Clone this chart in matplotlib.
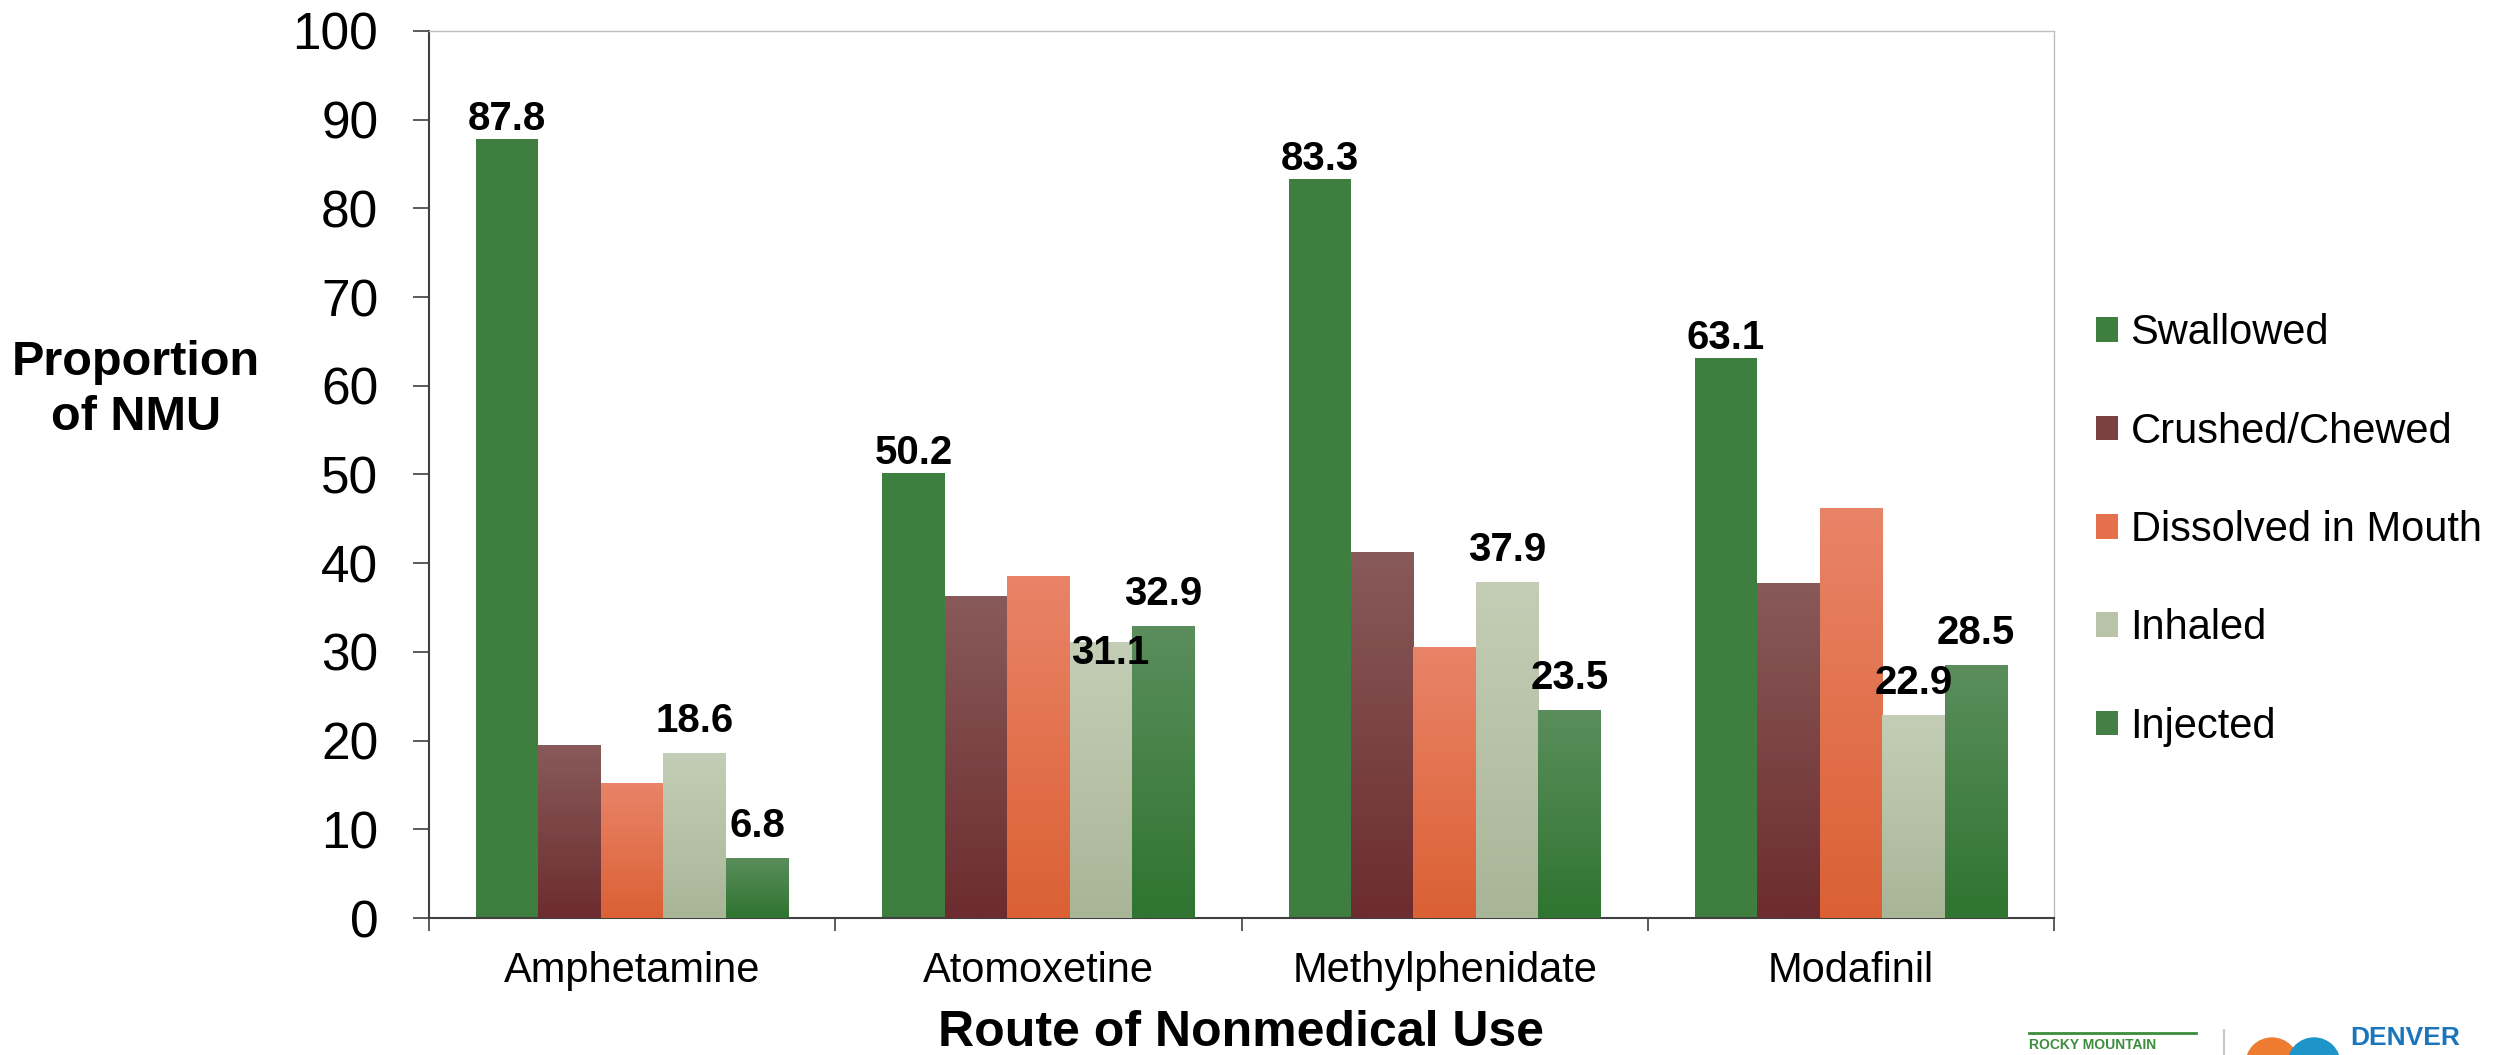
import numpy as np
import matplotlib
matplotlib.use("Agg")
import matplotlib.pyplot as plt
from matplotlib.colors import LinearSegmentedColormap
from matplotlib.patches import Circle

plt.rcParams['font.family'] = ['Liberation Sans', 'DejaVu Sans']

# data
drugs = ["Amphetamine", "Atomoxetine", "Methylphenidate", "Modafinil"]
routes = ["Swallowed", "Crushed/Chewed", "Dissolved in Mouth", "Inhaled", "Injected"]
swallowed = [87.8, 50.2, 83.3, 63.1]
crushed = [19.5, 36.3, 41.3, 37.8]
dissolved = [15.2, 38.6, 30.6, 46.2]
inhaled = [18.6, 31.1, 37.9, 22.9]
injected = [6.8, 32.9, 23.5, 28.5]
series = [swallowed, crushed, dissolved, inhaled, injected]

# top / bottom colour of each series (gradient fill)
grad_colors = [("#3E7E3E", "#3E7E3E"),
               ("#885A59", "#6D2C2F"),
               ("#E98468", "#DB6034"),
               ("#C4CEB6", "#A9B597"),
               ("#5B8E5C", "#2F7430")]
mid_colors = ["#3E7E3E", "#7A4042", "#E5704E", "#B8C3A8", "#447F45"]

W, H = 2514, 1055
fig = plt.figure(figsize=(W / 100, H / 100), dpi=100)
fig.patch.set_facecolor("white")

# background layer in pixel coords (logos at bottom right)
bg = fig.add_axes([0, 0, 1, 1], zorder=-5)
bg.set_xlim(0, W)
bg.set_ylim(H, 0)
bg.axis("off")
bg.plot([2029, 2196], [1033, 1033], color="#3C8D3C", lw=2)
bg.text(2029, 1038, "ROCKY MOUNTAIN", color="#3C8D3C", fontsize=10,
        fontweight="bold", va="top", ha="left")
bg.plot([2224, 2224], [1030, 1055], color="#C8C8C8", lw=1.5)
bg.add_patch(Circle((2272, 1064), 26, color="#EE7B30"))
bg.add_patch(Circle((2314, 1064), 26, color="#1E95C8"))
bg.text(2350, 1026, "DENVER", color="#1B75BB", fontsize=19,
        fontweight="bold", va="top", ha="left")

ax = fig.add_axes([429 / W, 1 - 918 / H, (2054 - 429) / W, (918 - 31) / H])
ax.set_facecolor("none")

x = np.arange(len(drugs))
bw = 0.1537
offsets = (np.arange(len(routes)) - 2) * bw

label_off = [6.5, None, None, 15, 15]
for i, vals in enumerate(series):
    bars = ax.bar(x + offsets[i], vals, bw, color=mid_colors[i],
                  label=routes[i], linewidth=0, zorder=2)
    top, bot = grad_colors[i]
    if top != bot:
        cmap = LinearSegmentedColormap.from_list("g%d" % i, [bot, top])
        for b in bars:
            x0, y0 = b.get_x(), b.get_y()
            im = ax.imshow(np.linspace(0, 1, 256).reshape(-1, 1), cmap=cmap,
                           origin="lower", aspect="auto", zorder=3,
                           extent=[x0, x0 + b.get_width(), y0, y0 + b.get_height()])
            im.set_clip_path(b)
    if label_off[i] is not None:
        for j, v in enumerate(vals):
            dy = label_off[i]
            dx = 0
            if i == 3 and j == 1:
                dy, dx = -16, 7
            ax.annotate("%.1f" % v, (x[j] + offsets[i], v), xytext=(dx, dy),
                        textcoords="offset points", ha="center", va="baseline",
                        fontsize=29, fontweight="bold", zorder=5)

ax.set_xlim(-0.5, len(drugs) - 0.5)
ax.set_ylim(0, 100)
ax.set_yticks(np.arange(0, 101, 10))
ax.tick_params(axis="y", labelsize=37, length=11.5, width=1.2, pad=25,
               color="#404040")
ax.set_xticks(x)
ax.set_xticklabels(drugs)
ax.set_xticks(np.arange(-0.5, len(drugs)), minor=True)
ax.tick_params(axis="x", which="major", length=0, labelsize=30, pad=24)
ax.tick_params(axis="x", which="minor", length=9.5, width=1.2, color="#404040")

for s in ["left", "bottom"]:
    ax.spines[s].set_color("#404040")
    ax.spines[s].set_linewidth(1.5)
for s in ["top", "right"]:
    ax.spines[s].set_color("#BFBFBF")
    ax.spines[s].set_linewidth(1.0)

fig.text(1241 / W, 1 - 1033 / H, "Route of Nonmedical Use", ha="center",
         va="center", fontsize=36, fontweight="bold")
fig.text(136 / W, 1 - 390 / H, "Proportion\nof NMU", ha="center", va="center",
         fontsize=35, fontweight="bold", linespacing=1.3)

fig.legend(loc="center left", bbox_to_anchor=(2096 / W, 1 - 530 / H),
           frameon=False, fontsize=30, handlelength=0.53, handleheight=0.53,
           handletextpad=0.3, labelspacing=1.4, borderpad=0, borderaxespad=0)

fig.savefig("out.png", dpi=100, facecolor="white")
